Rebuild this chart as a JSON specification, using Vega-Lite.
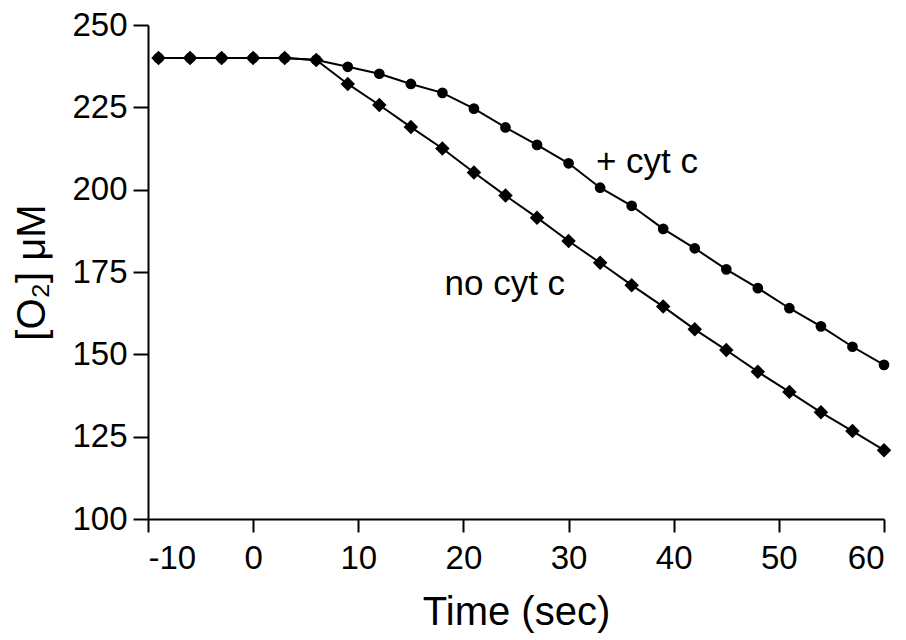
{
  "$schema": "https://vega.github.io/schema/vega-lite/v6.json",
  "width": 736,
  "height": 494,
  "autosize": {"type": "none"},
  "padding": {"left": 148, "top": 25, "right": 22, "bottom": 121},
  "background": "white",
  "config": {
    "view": {"stroke": null},
    "font": "Liberation Sans",
    "axis": {
      "grid": false,
      "domainColor": "black",
      "domainWidth": 2,
      "tickColor": "black",
      "tickWidth": 2,
      "labelColor": "black",
      "labelFont": "Liberation Sans",
      "labelFontSize": 33,
      "titleColor": "black",
      "titleFont": "Liberation Sans",
      "titleFontSize": 40,
      "titleFontWeight": "normal"
    }
  },
  "datasets": {
    "series": [
      {"t": -9, "o2": 240, "series": "+ cyt c"},
      {"t": -6, "o2": 240, "series": "+ cyt c"},
      {"t": -3, "o2": 240, "series": "+ cyt c"},
      {"t": 0, "o2": 240, "series": "+ cyt c"},
      {"t": 3, "o2": 240, "series": "+ cyt c"},
      {"t": 6, "o2": 239.4, "series": "+ cyt c"},
      {"t": 9, "o2": 237.3, "series": "+ cyt c"},
      {"t": 12, "o2": 235.2, "series": "+ cyt c"},
      {"t": 15, "o2": 232.1, "series": "+ cyt c"},
      {"t": 18, "o2": 229.4, "series": "+ cyt c"},
      {"t": 21, "o2": 224.6, "series": "+ cyt c"},
      {"t": 24, "o2": 218.9, "series": "+ cyt c"},
      {"t": 27, "o2": 213.6, "series": "+ cyt c"},
      {"t": 30, "o2": 208.0, "series": "+ cyt c"},
      {"t": 33, "o2": 200.6, "series": "+ cyt c"},
      {"t": 36, "o2": 195.1, "series": "+ cyt c"},
      {"t": 39, "o2": 188.1, "series": "+ cyt c"},
      {"t": 42, "o2": 182.2, "series": "+ cyt c"},
      {"t": 45, "o2": 175.8, "series": "+ cyt c"},
      {"t": 48, "o2": 170.1, "series": "+ cyt c"},
      {"t": 51, "o2": 164.0, "series": "+ cyt c"},
      {"t": 54, "o2": 158.5, "series": "+ cyt c"},
      {"t": 57, "o2": 152.3, "series": "+ cyt c"},
      {"t": 60, "o2": 146.8, "series": "+ cyt c"},
      {"t": -9, "o2": 240, "series": "no cyt c"},
      {"t": -6, "o2": 240, "series": "no cyt c"},
      {"t": -3, "o2": 240, "series": "no cyt c"},
      {"t": 0, "o2": 240, "series": "no cyt c"},
      {"t": 3, "o2": 240, "series": "no cyt c"},
      {"t": 6, "o2": 239.4, "series": "no cyt c"},
      {"t": 9, "o2": 232.1, "series": "no cyt c"},
      {"t": 12, "o2": 225.7, "series": "no cyt c"},
      {"t": 15, "o2": 219.0, "series": "no cyt c"},
      {"t": 18, "o2": 212.5, "series": "no cyt c"},
      {"t": 21, "o2": 205.2, "series": "no cyt c"},
      {"t": 24, "o2": 198.2, "series": "no cyt c"},
      {"t": 27, "o2": 191.5, "series": "no cyt c"},
      {"t": 30, "o2": 184.4, "series": "no cyt c"},
      {"t": 33, "o2": 177.8, "series": "no cyt c"},
      {"t": 36, "o2": 171.0, "series": "no cyt c"},
      {"t": 39, "o2": 164.5, "series": "no cyt c"},
      {"t": 42, "o2": 157.6, "series": "no cyt c"},
      {"t": 45, "o2": 151.3, "series": "no cyt c"},
      {"t": 48, "o2": 144.7, "series": "no cyt c"},
      {"t": 51, "o2": 138.6, "series": "no cyt c"},
      {"t": 54, "o2": 132.4, "series": "no cyt c"},
      {"t": 57, "o2": 126.7, "series": "no cyt c"},
      {"t": 60, "o2": 120.9, "series": "no cyt c"}
    ],
    "labels": [
      {"t": 32.6, "o2": 205, "label": "+ cyt c"},
      {"t": 18.2, "o2": 168, "label": "no cyt c"}
    ]
  },
  "layer": [
    {
      "data": {"name": "series"},
      "mark": {"type": "line", "color": "black", "strokeWidth": 2},
      "encoding": {
        "x": {
          "field": "t", "type": "quantitative",
          "scale": {"domain": [-10, 60], "nice": false, "zero": false},
          "axis": {
            "values": [-10, 0, 10, 20, 30, 40, 50, 60],
            "labelExpr": "datum.value < 0 ? '-' + abs(datum.value) : '' + datum.value",
            "title": "Time (sec)", "tickSize": 13, "labelPadding": 10, "titlePadding": 17
          }
        },
        "y": {
          "field": "o2", "type": "quantitative",
          "scale": {"domain": [100, 250], "nice": false, "zero": false},
          "axis": {
            "values": [100, 125, 150, 175, 200, 225, 250],
            "title": "[O₂] μM", "tickSize": 15, "labelPadding": 6, "titlePadding": 19
          }
        },
        "detail": {"field": "series"}
      }
    },
    {
      "data": {"name": "series"},
      "transform": [{"filter": "datum.series === '+ cyt c'"}],
      "mark": {"type": "point", "shape": "circle", "filled": true, "color": "black", "opacity": 1, "size": 115},
      "encoding": {
        "x": {"field": "t", "type": "quantitative"},
        "y": {"field": "o2", "type": "quantitative"}
      }
    },
    {
      "data": {"name": "series"},
      "transform": [{"filter": "datum.series === 'no cyt c'"}],
      "mark": {"type": "point", "shape": "diamond", "filled": true, "color": "black", "opacity": 1, "size": 210},
      "encoding": {
        "x": {"field": "t", "type": "quantitative"},
        "y": {"field": "o2", "type": "quantitative"}
      }
    },
    {
      "data": {"name": "labels"},
      "mark": {"type": "text", "align": "left", "baseline": "alphabetic", "fontSize": 35, "font": "Liberation Sans", "color": "black"},
      "encoding": {
        "x": {"field": "t", "type": "quantitative"},
        "y": {"field": "o2", "type": "quantitative"},
        "text": {"field": "label"}
      }
    }
  ]
}
